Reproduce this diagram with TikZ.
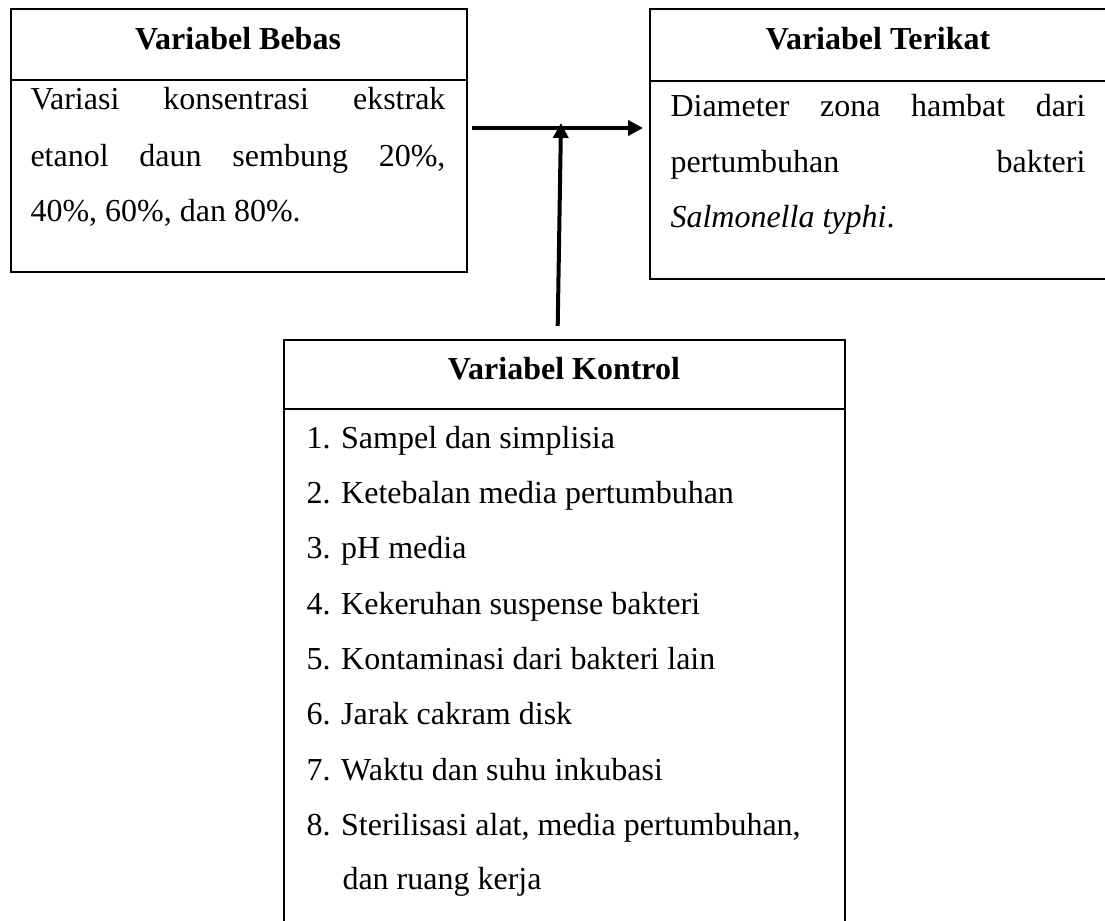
\documentclass[tikz,border=0pt]{standalone}
\usepackage{fontspec}
\setmainfont{Liberation Serif}
\usetikzlibrary{arrows.meta}
\newcommand{\jline}[1]{\makebox[155.6pt][s]{#1}}
\def\px{0.375pt}

\begin{document}
\begin{tikzpicture}[x=0.375pt, y=-0.375pt,
  box/.style={draw, line width=0.75pt, inner sep=0pt, anchor=north west},
  txt/.style={inner sep=0pt, anchor=base west, font=\fontsize{12}{14}\selectfont},
  head/.style={inner sep=0pt, anchor=base, font=\fontsize{12}{14}\selectfont\bfseries},
  arr/.style={line width=1.5pt, -{Triangle[length=5.6pt,width=5.6pt]}}]
\useasboundingbox (0,0) rectangle (1105,921);

% boxes
\node[box, minimum width=456*\px, minimum height=263*\px] (bebas) at (10,8) {};
\node[box, minimum width=458*\px, minimum height=270*\px] (terikat) at (649,8) {};
\node[box, minimum width=561*\px, minimum height=600*\px] (kontrol) at (283,339) {};
\draw[line width=0.75pt] (10,80) -- (466,80);
\draw[line width=0.75pt] (649,81) -- (1107,81);
\draw[line width=0.75pt] (283,409) -- (844,409);

% headers
\node[head] (hb) at (238,50) {Variabel Bebas};
\node[head] (ht) at (878,50) {Variabel Terikat};
\node[head] (hk) at (564,380) {Variabel Kontrol};

% body text
\node[txt] (b1) at (30,110) {\jline{Variasi konsentrasi ekstrak}};
\node[txt] (b2) at (30,167) {\jline{etanol daun sembung 20\%,}};
\node[txt] (b3) at (30,222) {40\%, 60\%, dan 80\%.};
\node[txt] (t1) at (670,117) {\jline{Diameter zona hambat dari}};
\node[txt] (t2) at (670,173) {\jline{pertumbuhan bakteri}};
\node[txt] (t3) at (670,228) {\textit{Salmonella typhi}.};

\foreach \i/\t in {1/Sampel dan simplisia, 2/Ketebalan media pertumbuhan,
  3/pH media, 4/Kekeruhan suspense bakteri, 5/Kontaminasi dari bakteri lain,
  6/Jarak cakram disk, 7/Waktu dan suhu inkubasi,
  8/{Sterilisasi alat, media pertumbuhan,}}
  \node[txt] (k\i) at (306,393+55.3*\i) {\i. \t};
\node[txt] (k9) at (342,890) {dan ruang kerja};

% arrows
\coordinate (lvl) at (561,128);
\draw[arr, shorten <=4*\px, shorten >=6*\px] (bebas.east |- lvl) -- (terikat.west |- lvl);
\draw[arr, shorten <=13*\px] ([xshift=-7*\px]kontrol.north) -- ([yshift=5*\px]lvl);
\end{tikzpicture}
\end{document}
